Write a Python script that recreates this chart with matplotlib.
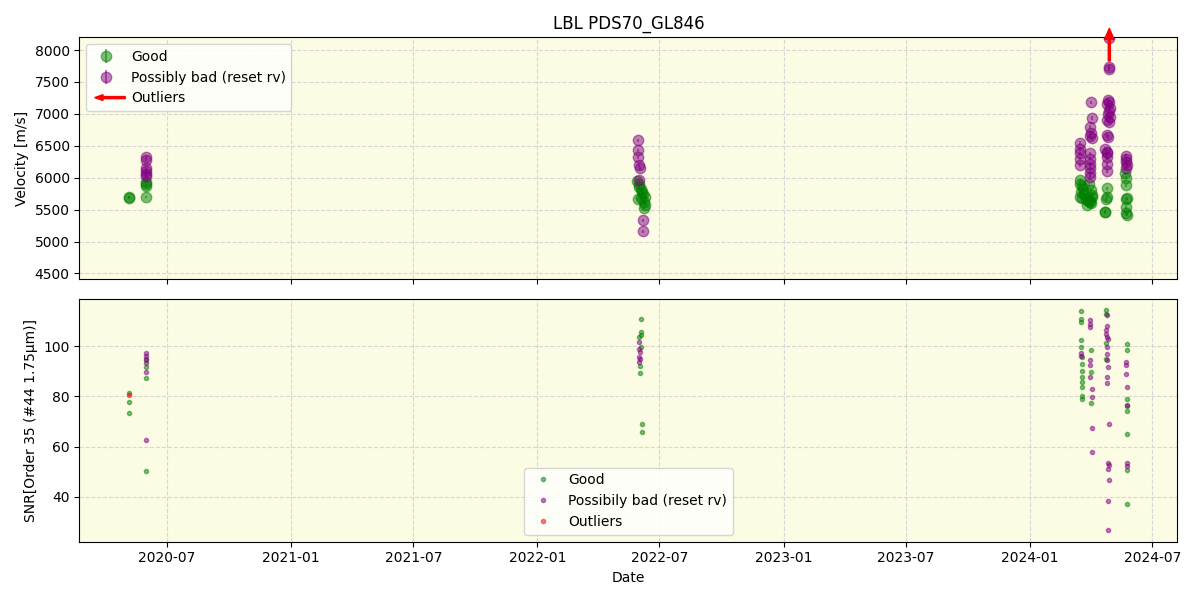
import matplotlib
matplotlib.use('Agg')
import matplotlib.pyplot as plt
import matplotlib.patches as mpatches
import matplotlib.dates as mdates
from matplotlib.legend_handler import HandlerPatch
import numpy as np

# velocity points: (date, rv [m/s], error)
good_rv = [
    ('2020-05-05', 5690, 20), ('2020-05-05', 5700, 20),
    ('2020-05-31', 5700, 20), ('2020-05-31', 5898, 20), ('2020-05-31', 5930, 20), ('2020-05-30', 5870, 20),
    ('2022-05-29', 5950, 25), ('2022-05-31', 5900, 25), ('2022-06-01', 5850, 25), ('2022-06-03', 5820, 25),
    ('2022-06-05', 5780, 25), ('2022-06-07', 5750, 25), ('2022-06-09', 5700, 25), ('2022-05-30', 5660, 25),
    ('2022-06-08', 5620, 25), ('2022-06-10', 5580, 25), ('2022-06-08', 5521, 25), ('2022-06-04', 5680, 25),
    ('2024-03-15', 5960, 25), ('2024-03-16', 5900, 25), ('2024-03-18', 5870, 25), ('2024-03-20', 5820, 25),
    ('2024-03-17', 5780, 25), ('2024-03-22', 5740, 25), ('2024-03-15', 5700, 25), ('2024-03-19', 5680, 25),
    ('2024-03-24', 5660, 25), ('2024-03-28', 5640, 25), ('2024-03-30', 5620, 25), ('2024-04-01', 5600, 25),
    ('2024-03-26', 5580, 25), ('2024-04-03', 5700, 25), ('2024-03-31', 5650, 25), ('2024-04-02', 5730, 25),
    ('2024-04-01', 5800, 25), ('2024-03-29', 5900, 25),
    ('2024-04-24', 5835, 25), ('2024-04-23', 5660, 25), ('2024-04-25', 5700, 25), ('2024-04-22', 5458, 25),
    ('2024-04-21', 5470, 25),
    ('2024-05-21', 6070, 25), ('2024-05-22', 6000, 25), ('2024-05-23', 5880, 25), ('2024-05-24', 5680, 25),
    ('2024-05-23', 5660, 25), ('2024-05-22', 5537, 25), ('2024-05-23', 5443, 25), ('2024-05-24', 5420, 25),
]
bad_rv = [
    ('2020-05-31', 6320, 20), ('2020-05-31', 6280, 20), ('2020-05-30', 6148, 20), ('2020-05-31', 6100, 20),
    ('2020-05-30', 6054, 20), ('2020-05-31', 6023, 20),
    ('2022-05-30', 6588, 25), ('2022-05-30', 6431, 25), ('2022-05-30', 6321, 25), ('2022-05-31', 6196, 25),
    ('2022-06-02', 6148, 25), ('2022-06-01', 5960, 25), ('2022-06-06', 5333, 25), ('2022-06-06', 5160, 25),
    ('2024-04-28', 8190, 30), ('2024-04-28', 7740, 30), ('2024-04-28', 7700, 30), ('2024-04-01', 7180, 30),
    ('2024-04-26', 7215, 30), ('2024-04-28', 7190, 30), ('2024-04-25', 7150, 30), ('2024-04-29', 7100, 30),
    ('2024-04-27', 7050, 30), ('2024-04-26', 7000, 30), ('2024-04-29', 6950, 30), ('2024-04-25', 6900, 30),
    ('2024-04-28', 6870, 30), ('2024-04-03', 6930, 30), ('2024-03-30', 6790, 30), ('2024-04-01', 6700, 30),
    ('2024-03-30', 6650, 30), ('2024-04-03', 6620, 30), ('2024-04-24', 6670, 30), ('2024-04-26', 6640, 30),
    ('2024-04-22', 6450, 30), ('2024-04-24', 6400, 30),
    ('2024-03-15', 6540, 30), ('2024-03-15', 6450, 30), ('2024-03-15', 6380, 30), ('2024-03-15', 6300, 30),
    ('2024-03-15', 6200, 30),
    ('2024-03-31', 6380, 30), ('2024-03-31', 6300, 30), ('2024-03-31', 6220, 30), ('2024-03-31', 6150, 30),
    ('2024-03-31', 6080, 30), ('2024-03-31', 6010, 30),
    ('2024-04-24', 6380, 30), ('2024-04-25', 6320, 30), ('2024-04-24', 6220, 30), ('2024-04-24', 6100, 30),
    ('2024-05-22', 6340, 30), ('2024-05-23', 6300, 30), ('2024-05-22', 6250, 30), ('2024-05-24', 6200, 30),
    ('2024-05-23', 6150, 30),
]
outlier_arrow = [('2024-04-28', 7830)]

# SNR points: (date, snr)
good_snr = [
    ('2020-05-05', 81.5), ('2020-05-05', 77.8), ('2020-05-05', 73.4),
    ('2020-05-31', 91.8), ('2020-05-31', 87.4), ('2020-05-31', 50.4), ('2020-05-31', 94.5),
    ('2022-06-03', 110.7), ('2022-06-04', 105.6), ('2022-06-04', 104.6), ('2022-06-01', 103.6),
    ('2022-06-03', 99.6), ('2022-06-02', 92.0), ('2022-06-02', 89.3), ('2022-06-05', 69.0), ('2022-06-05', 65.9),
    ('2024-03-17', 113.9), ('2024-03-17', 111.0), ('2024-03-17', 109.7), ('2024-03-17', 102.4),
    ('2024-03-17', 99.7), ('2024-03-18', 95.8), ('2024-03-18', 93.1), ('2024-03-19', 90.3),
    ('2024-03-19', 87.6), ('2024-03-18', 85.8), ('2024-03-18', 83.8), ('2024-03-18', 80.2), ('2024-03-18', 79.1),
    ('2024-04-01', 98.7), ('2024-04-01', 89.8), ('2024-04-01', 77.2),
    ('2024-04-23', 114.3), ('2024-04-23', 113.0), ('2024-04-23', 101.1), ('2024-04-23', 95.1),
    ('2024-05-24', 100.7), ('2024-05-24', 98.4), ('2024-05-24', 78.8), ('2024-05-24', 76.2),
    ('2024-05-24', 74.0), ('2024-05-24', 65.0), ('2024-05-24', 50.5), ('2024-05-24', 37.2),
]
bad_snr = [
    ('2020-05-31', 97.2), ('2020-05-31', 96.0), ('2020-05-30', 95.0), ('2020-05-31', 93.2),
    ('2020-05-30', 89.6), ('2020-05-30', 62.7),
    ('2022-06-01', 101.6), ('2022-06-01', 98.8), ('2022-06-02', 97.6), ('2022-06-01', 95.6),
    ('2022-06-02', 95.1), ('2022-06-01', 93.6),
    ('2024-03-17', 97.4), ('2024-03-17', 96.0),
    ('2024-03-31', 110.3), ('2024-03-31', 109.0), ('2024-03-31', 107.7), ('2024-03-31', 94.4),
    ('2024-03-31', 92.5), ('2024-03-31', 87.8), ('2024-04-02', 82.8), ('2024-04-02', 79.9),
    ('2024-04-02', 67.3), ('2024-04-02', 57.7),
    ('2024-04-24', 112.3), ('2024-04-24', 108.0), ('2024-04-23', 106.5), ('2024-04-23', 105.0),
    ('2024-04-25', 103.7), ('2024-04-26', 103.0), ('2024-04-24', 99.7), ('2024-04-24', 97.1),
    ('2024-04-24', 94.4), ('2024-04-26', 91.8), ('2024-04-24', 87.8), ('2024-04-25', 85.4),
    ('2024-04-27', 68.9), ('2024-04-26', 53.4), ('2024-04-27', 52.5), ('2024-04-26', 51.0),
    ('2024-04-27', 46.7), ('2024-04-26', 38.3), ('2024-04-26', 26.6),
    ('2024-05-22', 93.8), ('2024-05-22', 92.5), ('2024-05-22', 88.9), ('2024-05-24', 83.6),
    ('2024-05-24', 76.6), ('2024-05-24', 53.4), ('2024-05-24', 52.1),
]
outlier_snr = [('2020-05-05', 80.5)]


def unpack(rows):
    cols = list(zip(*rows))
    dates = np.array(cols[0], dtype='datetime64[D]')
    return (dates,) + tuple(np.array(c, dtype=float) for c in cols[1:])


class HandlerArrow(HandlerPatch):
    def create_artists(self, legend, orig_handle, xdescent, ydescent, width, height, fontsize, trans):
        arr = mpatches.FancyArrow(width + 4, 0.5 * height, -width - 2, 0, width=1.5,
                                  head_width=0.6 * height, head_length=0.3 * width,
                                  length_includes_head=True, color='red')
        arr.set_transform(trans)
        return [arr]


bg = '#fcfbe3'
fig, (ax1, ax2) = plt.subplots(2, 1, figsize=(12, 6), dpi=100, sharex=True)

# velocity panel
d, v, e = unpack(good_rv)
ax1.errorbar(d, v, yerr=e, fmt='o', color='green', alpha=0.5, ms=7.5, label='Good')
d, v, e = unpack(bad_rv)
ax1.errorbar(d, v, yerr=e, fmt='o', color='purple', alpha=0.5, ms=7.5, label='Possibly bad (reset rv)')
for date, val in outlier_arrow:
    ax1.annotate('', xy=(np.datetime64(date), 8340), xytext=(np.datetime64(date), val),
                 arrowprops=dict(color='red', width=1.5, headwidth=7, headlength=8),
                 annotation_clip=False)
arrow_handle = mpatches.FancyArrow(0, 0, 1, 0, color='red', label='Outliers')
h, l = ax1.get_legend_handles_labels()
ax1.legend(h + [arrow_handle], l + ['Outliers'], loc='upper left',
           handler_map={mpatches.FancyArrow: HandlerArrow()})
ax1.set_ylabel('Velocity [m/s]')
ax1.set_ylim(4406, 8204)
ax1.set_title('LBL PDS70_GL846')

# SNR panel
d, s = unpack(good_snr)
ax2.plot(d, s, 'o', color='green', alpha=0.5, ms=3, label='Good')
d, s = unpack(bad_snr)
ax2.plot(d, s, 'o', color='purple', alpha=0.5, ms=3, label='Possibily bad (reset rv)')
d, s = unpack(outlier_snr)
ax2.plot(d, s, 'o', color='red', alpha=0.5, ms=3, label='Outliers')
ax2.legend(loc='lower center')
ax2.set_ylabel('SNR[Order 35 (#44 1.75μm)]')
ax2.set_xlabel('Date')
ax2.set_ylim(22.1, 118.7)

for ax in (ax1, ax2):
    ax.set_facecolor(bg)
    ax.grid(True, linestyle='--', color='lightgray', alpha=0.9)
ax2.set_xlim(np.datetime64('2020-02-22'), np.datetime64('2024-08-07'))
ax2.xaxis.set_major_locator(mdates.MonthLocator(bymonth=[1, 7]))
ax2.xaxis.set_major_formatter(mdates.DateFormatter('%Y-%m'))

plt.tight_layout()
plt.savefig('out.png')
